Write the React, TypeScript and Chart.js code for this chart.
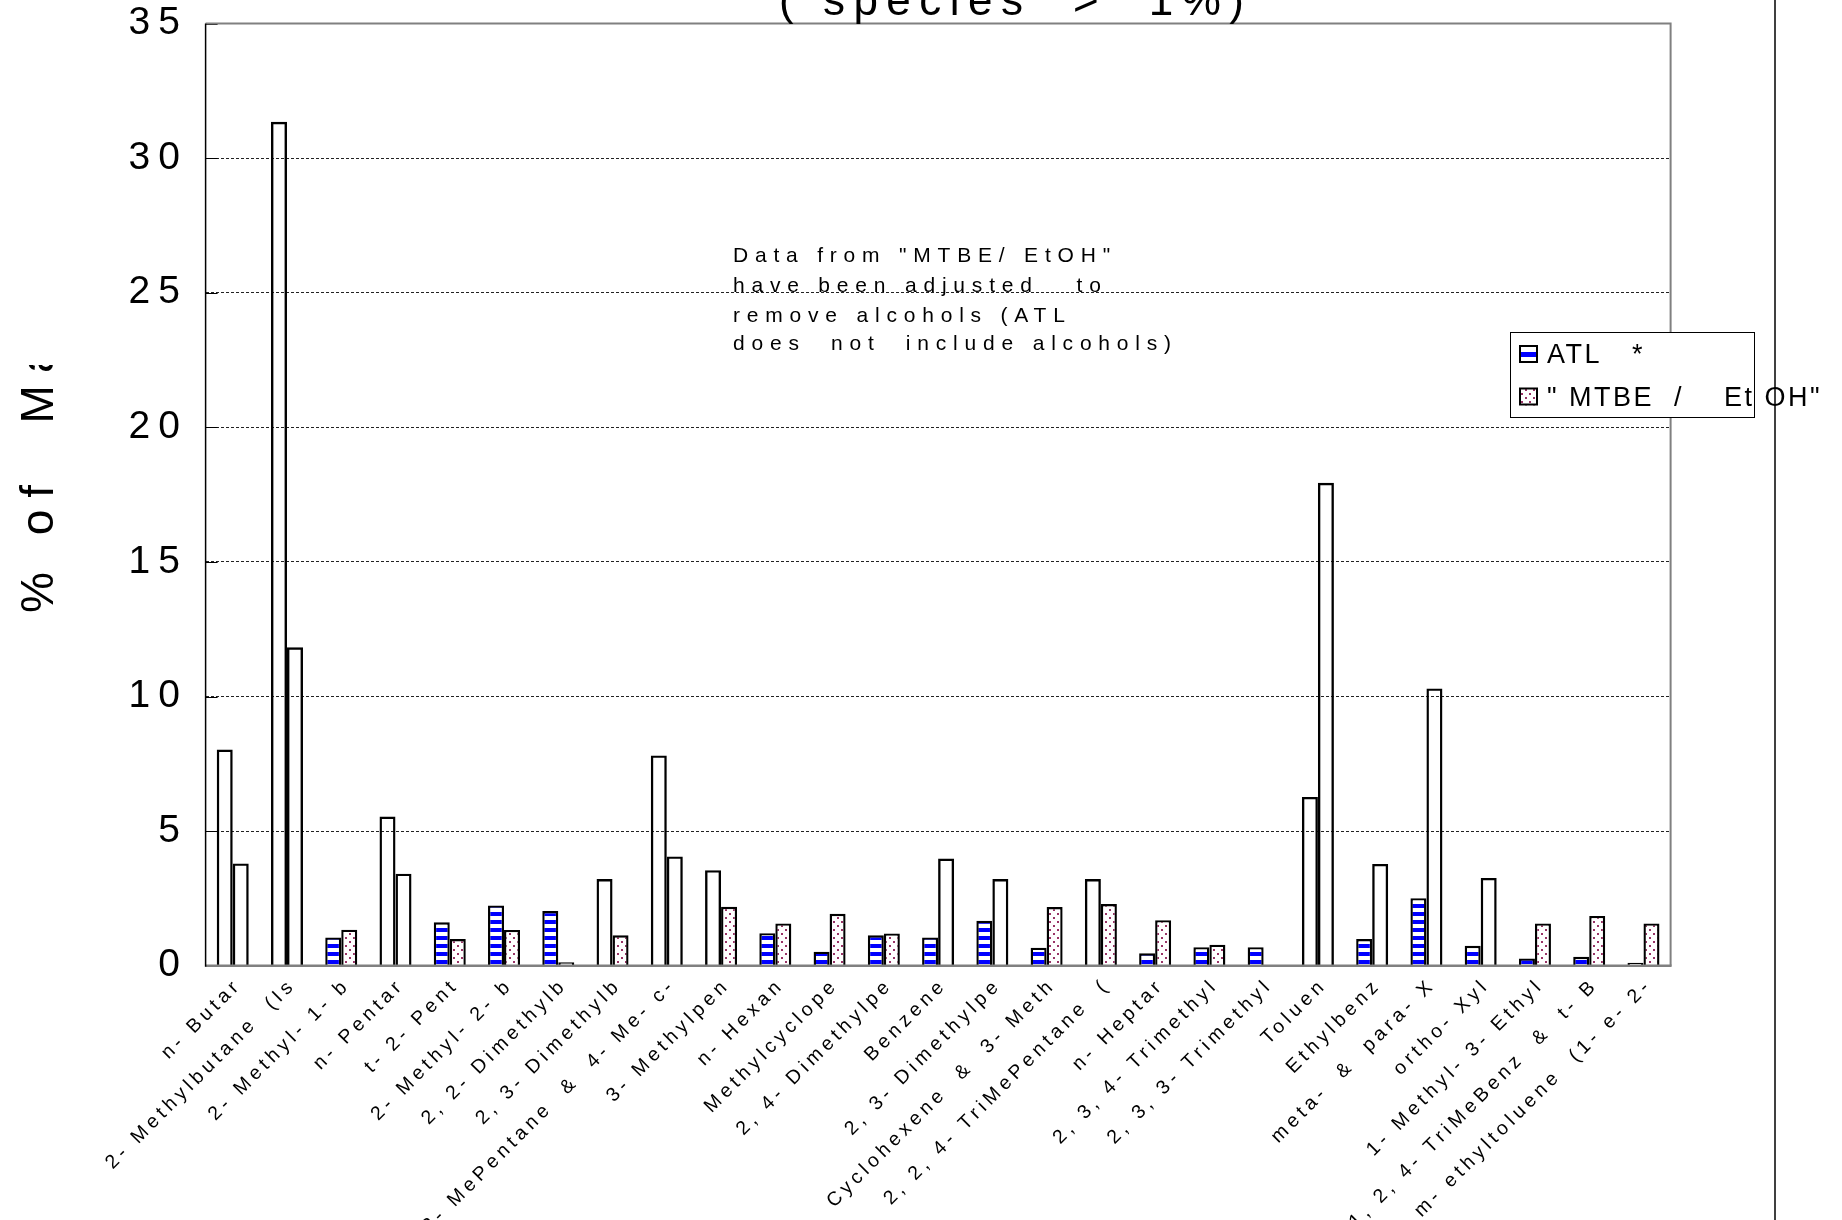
import React, { useEffect, useRef } from "react";
import { Chart, registerables } from "chart.js";

Chart.register(...registerables);

// ---------- data ----------
const CATEGORIES = [
  "n- Butar",
  "2- Methylbutane  (Is",
  "2- Methyl- 1- b",
  "n- Pentar",
  "t- 2- Pent",
  "2- Methyl- 2- b",
  "2, 2- Dimethylb",
  "2, 3- Dimethylb",
  "2- MePentane  &  4- Me- c-",
  "3- Methylpen",
  "n- Hexan",
  "Methylcyclope",
  "2, 4- Dimethylpe",
  "Benzene",
  "2, 3- Dimethylpe",
  "Cyclohexene  &  3- Meth",
  "2, 2, 4- TriMePentane  (",
  "n- Heptar",
  "2, 3, 4- Trimethyl",
  "2, 3, 3- Trimethyl",
  "Toluen",
  "Ethylbenz",
  "meta-  &  para- X",
  "ortho- Xyl",
  "1- Methyl- 3- Ethyl",
  "1, 2, 4- TriMeBenz  &  t- B",
  "m- ethyltoluene  (1- e- 2-",
];

const ATL = [
  8.03, 31.35, 1.05, 5.54, 1.61, 2.24, 2.03, 3.22, 7.81, 3.55, 1.21, 0.52, 1.13, 1.05,
  1.67, 0.67, 3.22, 0.46, 0.69, 0.69, 6.27, 0.99, 2.51, 0.74, 0.27, 0.33, 0.11,
];

const MTBE_ETOH = [
  3.8, 11.83, 1.34, 3.42, 0.99, 1.33, 0.13, 1.13, 4.06, 2.19, 1.57, 1.93, 1.2, 3.98,
  3.22, 2.18, 2.29, 1.69, 0.78, 0, 17.94, 3.78, 10.3, 3.26, 1.57, 1.85, 1.57,
];

const SERIES_LABELS = ["ATL   *", '" MTBE  /    Et OH"'];

const Y_MIN = 0;
const Y_MAX = 35;
const Y_STEP = 5;

const TITLE_TEXT = "( species  >  1%)";
const Y_TITLE = "% of  Mass";
const NOTE_LINES = [
  'Data from "MTBE/ EtOH"',
  "have been adjusted   to",
  "remove alcohols (ATL",
  "does  not  include alcohols)",
];

// bars above this value were drawn without their fill pattern
const PATTERN_LIMIT = 3;

const FONT = "'Liberation Sans', Arial, sans-serif";

function makePatterns(ctx: CanvasRenderingContext2D) {
  const s = document.createElement("canvas");
  s.width = 8;
  s.height = 8;
  const sg = s.getContext("2d")!;
  sg.fillStyle = "#ffffff";
  sg.fillRect(0, 0, 8, 8);
  sg.fillStyle = "#0000ff";
  sg.fillRect(0, 0, 8, 4);

  const d = document.createElement("canvas");
  d.width = 8;
  d.height = 8;
  const dg = d.getContext("2d")!;
  dg.fillStyle = "#ffffff";
  dg.fillRect(0, 0, 8, 8);
  dg.fillStyle = "#993366";
  dg.fillRect(1, 1, 2, 2);
  dg.fillRect(5, 5, 2, 2);

  return {
    stripes: ctx.createPattern(s, "repeat")!,
    dots: ctx.createPattern(d, "repeat")!,
  };
}

export default function App() {
  const ref = useRef<HTMLCanvasElement | null>(null);

  useEffect(() => {
    const canvas = ref.current;
    if (!canvas) return;
    const ctx0 = canvas.getContext("2d")!;
    const pats = makePatterns(ctx0);

    const fillFor = (pattern: CanvasPattern) => (c: any) => {
      const v = c.raw;
      return typeof v === "number" && v > PATTERN_LIMIT ? "rgba(0,0,0,0)" : pattern;
    };

    const decor = {
      id: "decor",
      beforeDraw(chart: any) {
        const { ctx, width, height } = chart;
        ctx.save();
        ctx.fillStyle = "#ffffff";
        ctx.fillRect(0, 0, width, height);
        ctx.restore();
        const spacing: Record<string, string> = { x: "4.4px", y: "8px" };
        for (const id of ["x", "y"]) {
          const s: any = chart.scales[id];
          if (s && !s.__ls) {
            const orig = s.drawLabels;
            s.drawLabels = function (area: any) {
              const c = this.ctx;
              const prev = c.letterSpacing;
              c.letterSpacing = spacing[id];
              orig.call(this, area);
              c.letterSpacing = prev;
            };
            s.__ls = true;
          }
        }
      },
      afterDatasetsDraw(chart: any) {
        const { ctx, chartArea } = chart;
        const ys = chart.scales.y;
        const { left, right, top, bottom } = chartArea;
        ctx.save();
        // inner tick marks
        ctx.strokeStyle = "#000";
        ctx.lineWidth = 1;
        for (let v = Y_MIN + Y_STEP; v <= Y_MAX; v += Y_STEP) {
          const py = Math.round(ys.getPixelForValue(v)) + 0.5;
          ctx.beginPath();
          ctx.moveTo(left, py);
          ctx.lineTo(left + 12, py);
          ctx.stroke();
        }
        // top & right frame (grey)
        ctx.strokeStyle = "#808080";
        ctx.lineWidth = 2;
        ctx.beginPath();
        ctx.moveTo(left, top);
        ctx.lineTo(right, top);
        ctx.lineTo(right, bottom);
        ctx.stroke();
        // x axis (grey)
        ctx.lineWidth = 2.5;
        ctx.beginPath();
        ctx.moveTo(left, bottom);
        ctx.lineTo(right + 1, bottom);
        ctx.stroke();
        // y axis (black)
        ctx.strokeStyle = "#000";
        ctx.lineWidth = 1.5;
        ctx.beginPath();
        ctx.moveTo(left, top);
        ctx.lineTo(left, bottom + 1);
        ctx.stroke();
        ctx.restore();
      },
      afterDraw(chart: any) {
        const { ctx, height } = chart;
        ctx.save();
        ctx.fillStyle = "#000";
        ctx.textAlign = "left";
        ctx.textBaseline = "alphabetic";

        // title (mostly above the page)
        ctx.font = `44px ${FONT}`;
        ctx.letterSpacing = "8.5px";
        ctx.fillText(TITLE_TEXT, 779, 15);

        // y-axis title, clipped
        ctx.save();
        ctx.beginPath();
        ctx.rect(0, 365, 200, 700);
        ctx.clip();
        ctx.translate(53, 613);
        ctx.rotate(-Math.PI / 2);
        ctx.font = `46px ${FONT}`;
        ctx.letterSpacing = "12px";
        ctx.fillText(Y_TITLE, 0, 0);
        ctx.restore();

        // note
        ctx.font = `21px ${FONT}`;
        ctx.letterSpacing = "6.8px";
        const noteY = [262, 292, 321.5, 350];
        NOTE_LINES.forEach((t, i) => ctx.fillText(t, 733, noteY[i]));

        // legend
        const lx = 1510, ly = 332, lw = 244, lh = 85;
        ctx.fillStyle = "#ffffff";
        ctx.fillRect(lx, ly, lw, lh);
        ctx.strokeStyle = "#000";
        ctx.lineWidth = 1;
        ctx.strokeRect(lx + 0.5, ly + 0.5, lw, lh);

        const ds = chart.data.datasets;
        const sw = [
          { y: 345, pat: pats.stripes },
          { y: 387.5, pat: pats.dots },
        ];
        ds.forEach((d: any, i: number) => {
          const sy = sw[i].y;
          if (i === 0) {
            ctx.fillStyle = "#ffffff";
            ctx.fillRect(1519, sy, 19, 18);
            ctx.fillStyle = "#0000ff";
            ctx.fillRect(1519, sy + 7, 19, 5);
          } else {
            ctx.fillStyle = sw[i].pat;
            ctx.fillRect(1519, sy, 19, 18);
          }
          ctx.strokeStyle = "#000";
          ctx.lineWidth = 2;
          ctx.strokeRect(1520, sy + 1, 17, 16);
          ctx.fillStyle = "#000";
          ctx.font = `27px ${FONT}`;
          ctx.letterSpacing = "2.5px";
          ctx.fillText(d.label, 1547, sy + 18);
        });

        // outer vertical rule
        ctx.letterSpacing = "0px";
        ctx.strokeStyle = "#000";
        ctx.lineWidth = 1.5;
        ctx.beginPath();
        ctx.moveTo(1775, 0);
        ctx.lineTo(1775, height);
        ctx.stroke();
        ctx.restore();
      },
    };

    const chart = new Chart(canvas, {
      type: "bar",
      data: {
        labels: CATEGORIES,
        datasets: [
          {
            label: SERIES_LABELS[0],
            data: ATL,
            backgroundColor: fillFor(pats.stripes) as any,
            borderColor: "#000000",
            borderWidth: 2.4,
            categoryPercentage: 0.59,
            barPercentage: 1,
          },
          {
            label: SERIES_LABELS[1],
            data: MTBE_ETOH,
            backgroundColor: fillFor(pats.dots) as any,
            borderColor: "#000000",
            borderWidth: 2.4,
            categoryPercentage: 0.59,
            barPercentage: 1,
          },
        ],
      },
      options: {
        responsive: false,
        animation: false,
        events: [],
        layout: { padding: { left: 0, right: 171.4, top: 23.5, bottom: 0 } },
        plugins: {
          legend: { display: false },
          title: { display: false },
          tooltip: { enabled: false },
        },
        scales: {
          x: {
            grid: { display: false, drawTicks: false },
            border: { display: false },
            ticks: {
              autoSkip: false,
              minRotation: 45,
              maxRotation: 45,
              color: "#000",
              padding: 8,
              labelOffset: 6,
              font: { family: FONT, size: 19.5, lineHeight: 1.2 },
            },
            afterFit: (s: any) => {
              s.height = 254.3;
            },
          },
          y: {
            min: Y_MIN,
            max: Y_MAX,
            ticks: {
              stepSize: Y_STEP,
              color: "#000",
              padding: 17.6,
              font: { family: FONT, size: 39, lineHeight: 1 },
            },
            grid: {
              drawTicks: false,
              lineWidth: 1,
              color: (c: any) =>
                c.tick && (c.tick.value === Y_MIN || c.tick.value === Y_MAX)
                  ? "rgba(0,0,0,0)"
                  : "#222222",
            },
            border: { display: false, dash: [3, 2] },
            afterFit: (s: any) => {
              s.width = 205.6;
              s.paddingTop = 0;
              s.paddingBottom = 0;
            },
          },
        },
      },
      plugins: [decor],
    });

    return () => chart.destroy();
  }, []);

  return (
    <div
      style={{
        position: "fixed",
        left: 0,
        top: 0,
        width: 1842,
        height: 1220,
        background: "#fff",
        overflow: "hidden",
      }}
    >
      <canvas ref={ref} width={1842} height={1220} style={{ display: "block" }} />
    </div>
  );
}
